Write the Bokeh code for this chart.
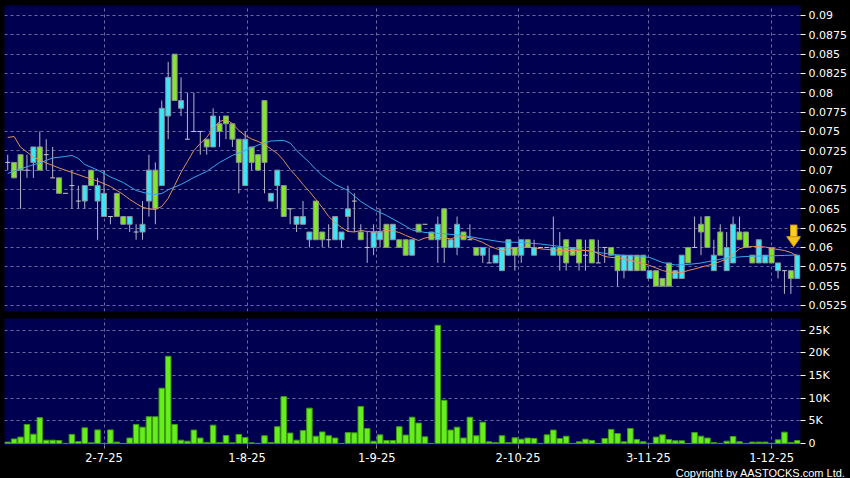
from bokeh.plotting import figure
from bokeh.layouts import column
from bokeh.models import Range1d, FixedTicker, Title, ColumnDataSource, GlobalInlineStyleSheet
from bokeh.embed import file_html
from bokeh.resources import INLINE

# ---------------- data ----------------
opens = [0.071,0.071,0.072,0.070,0.071,0.073,0.072,0.069,0.069,0.067,
         0.068,0.066,0.066,0.070,0.066,0.064,0.064,0.067,0.064,0.063,
         0.062,0.062,0.066,0.070,0.068,0.077,0.085,0.078,0.074,0.075,
         0.075,0.074,0.073,0.076,0.077,0.076,0.074,0.068,0.073,0.072,
         0.079,0.066,0.068,0.068,0.065,0.063,0.063,0.061,0.066,0.062,
         0.061,0.061,0.061,0.064,0.066,0.062,0.060,0.060,0.061,0.063,
         0.061,0.061,0.061,0.059,0.063,0.063,0.062,0.061,0.065,0.060,
         0.060,0.062,0.061,0.060,0.059,0.058,0.058,0.057,0.059,0.060,
         0.059,0.061,0.059,0.060,0.060,0.059,0.060,0.061,0.060,0.061,
         0.059,0.061,0.058,0.060,0.060,0.059,0.057,0.057,0.059,0.059,
         0.056,0.057,0.056,0.058,0.056,0.056,0.060,0.060,0.063,0.064,
         0.057,0.062,0.057,0.058,0.062,0.062,0.059,0.058,0.058,0.060,
         0.057,0.057,0.057,0.056]
highs = [0.072,0.071,0.072,0.072,0.073,0.075,0.074,0.073,0.069,0.067,
         0.070,0.068,0.068,0.070,0.069,0.070,0.064,0.067,0.064,0.064,
         0.063,0.066,0.072,0.071,0.079,0.084,0.085,0.082,0.080,0.080,
         0.075,0.074,0.078,0.077,0.077,0.076,0.074,0.075,0.073,0.072,
         0.079,0.067,0.070,0.068,0.065,0.064,0.066,0.062,0.066,0.062,
         0.063,0.064,0.062,0.068,0.067,0.063,0.062,0.063,0.065,0.063,
         0.063,0.061,0.061,0.061,0.063,0.063,0.062,0.064,0.065,0.061,
         0.064,0.062,0.063,0.060,0.060,0.060,0.059,0.060,0.061,0.060,
         0.061,0.061,0.061,0.060,0.060,0.064,0.062,0.061,0.060,0.061,
         0.061,0.061,0.061,0.060,0.060,0.059,0.059,0.059,0.059,0.059,
         0.057,0.057,0.056,0.058,0.057,0.059,0.060,0.064,0.064,0.064,
         0.061,0.063,0.062,0.064,0.064,0.062,0.059,0.061,0.059,0.060,
         0.058,0.057,0.057,0.059]
lows = [0.070,0.069,0.065,0.069,0.069,0.070,0.070,0.069,0.067,0.067,
        0.065,0.065,0.065,0.068,0.061,0.064,0.063,0.064,0.063,0.062,
        0.061,0.061,0.064,0.063,0.068,0.074,0.079,0.077,0.074,0.075,
        0.072,0.072,0.073,0.073,0.074,0.073,0.067,0.068,0.070,0.070,
        0.067,0.066,0.065,0.064,0.063,0.062,0.063,0.060,0.061,0.060,
        0.060,0.061,0.060,0.062,0.062,0.061,0.058,0.059,0.060,0.060,
        0.061,0.060,0.059,0.059,0.062,0.063,0.061,0.058,0.058,0.060,
        0.059,0.061,0.061,0.059,0.058,0.058,0.058,0.057,0.059,0.057,
        0.058,0.060,0.059,0.060,0.060,0.059,0.057,0.057,0.059,0.057,
        0.057,0.058,0.058,0.058,0.059,0.055,0.056,0.057,0.057,0.057,
        0.056,0.055,0.055,0.055,0.056,0.056,0.058,0.060,0.059,0.060,
        0.057,0.059,0.057,0.058,0.061,0.060,0.058,0.058,0.058,0.058,
        0.056,0.054,0.054,0.056]
closes = [0.071,0.069,0.070,0.070,0.073,0.070,0.072,0.069,0.067,0.067,
          0.068,0.066,0.068,0.068,0.068,0.067,0.064,0.064,0.063,0.064,
          0.062,0.063,0.070,0.065,0.078,0.082,0.079,0.079,0.074,0.075,
          0.075,0.073,0.077,0.075,0.076,0.074,0.071,0.074,0.071,0.070,
          0.071,0.067,0.070,0.064,0.065,0.064,0.064,0.062,0.061,0.061,
          0.061,0.064,0.062,0.065,0.066,0.061,0.060,0.062,0.062,0.060,
          0.063,0.060,0.059,0.061,0.062,0.063,0.061,0.063,0.060,0.061,
          0.063,0.061,0.061,0.059,0.060,0.058,0.059,0.060,0.061,0.059,
          0.061,0.060,0.060,0.060,0.060,0.060,0.059,0.058,0.059,0.058,
          0.059,0.058,0.058,0.060,0.059,0.057,0.059,0.059,0.057,0.057,
          0.057,0.055,0.055,0.055,0.057,0.059,0.058,0.060,0.062,0.060,
          0.059,0.059,0.060,0.063,0.061,0.060,0.058,0.061,0.059,0.058,
          0.058,0.057,0.056,0.059]
volumes = [300,1000,1400,4200,2050,5700,730,730,660,0,
           2000,440,3450,150,3000,0,3000,300,0,1200,
           4200,3600,5900,5900,12200,19250,4200,730,500,2950,
           1200,220,4050,220,1750,150,2000,1300,150,0,
           1700,220,3700,10350,2300,730,2850,7800,1600,2550,
           1700,1200,0,2400,2350,8150,3300,500,1900,660,
           660,3700,1850,5800,4500,1470,0,26100,9550,2950,
           3600,1200,5800,1700,4700,370,220,1700,220,1250,
           950,1200,1100,0,1900,2950,1100,1600,0,370,
           950,660,0,1100,3100,2200,370,3300,880,370,
           0,1400,1900,880,590,590,0,2400,1600,1200,
           220,0,500,1540,370,0,300,300,300,0,
           800,2500,220,660]

# moving averages (candle index, value)
ma_short_idx = [0,1,2,4,6,8,10,12,14,16,18,19,20,21,22,23,24,25,26,27,28,29,30,31,32,33,34,35,36,37,
                38,39,40,41,42,43,44,45,46,47,48,49,50,51,52,53,54,55,56,57,58,59,60,61,62,63,64,65,66,67,
                68,69,70,71,72,73,74,75,76,77,78,79,80,81,82,83,84,85,86,88,90,91,92,93,94,95,96,97,98,99,
                100,101,102,103,104,105,106,107,108,109,110,111,112,113,114,115,116,117,118,119,120,121,122,123]
ma_short_val = [0.07422,0.07435,0.07297,0.07170,0.07093,0.07028,0.06970,0.06912,0.06860,0.06789,
                0.06685,0.06621,0.06569,0.06521,0.06498,0.06491,0.06530,0.06634,0.06802,0.06970,
                0.07112,0.07254,0.07345,0.07422,0.07539,0.07629,0.07655,0.07603,0.07513,0.07448,
                0.07403,0.07371,0.07332,0.07274,0.07216,0.07125,0.07009,0.06918,0.06815,0.06724,
                0.06621,0.06517,0.06401,0.06323,0.06259,0.06207,0.06200,0.06220,0.06207,0.06200,
                0.06207,0.06220,0.06213,0.06194,0.06155,0.06123,0.06090,0.06123,0.06136,0.06129,
                0.06125,0.06112,0.06136,0.06142,0.06125,0.06097,0.06065,0.06019,0.05987,0.05961,
                0.05981,0.06000,0.06004,0.06004,0.05996,0.05983,0.05974,0.05968,0.05961,0.05961,
                0.05961,0.05955,0.05922,0.05884,0.05871,0.05867,0.05851,0.05832,0.05812,0.05793,
                0.05767,0.05735,0.05702,0.05683,0.05670,0.05676,0.05702,0.05722,0.05745,0.05767,
                0.05789,0.05819,0.05851,0.05910,0.05983,0.06006,0.06013,0.06013,0.06006,0.05987,
                0.05974,0.05961,0.05935,0.05890]
ma_long_idx = [0,2,5,7,9,10,11,12,14,16,18,20,22,23,24,25,27,29,31,33,35,37,39,41,43,44,45,46,47,48,
               49,51,53,55,57,59,61,63,65,68,71,74,77,80,83,86,89,92,95,98,100,102,104,106,108,110,112,115,118,121,123]
ma_long_val = [0.06957,0.07018,0.07095,0.07157,0.07177,0.07190,0.07151,0.07073,0.07002,0.06912,
               0.06840,0.06737,0.06692,0.06685,0.06698,0.06746,0.06815,0.06905,0.06983,0.07099,
               0.07190,0.07254,0.07325,0.07377,0.07384,0.07351,0.07254,0.07177,0.07099,0.07009,
               0.06931,0.06815,0.06737,0.06595,0.06491,0.06414,0.06323,0.06226,0.06194,0.06177,
               0.06155,0.06110,0.06071,0.06065,0.06045,0.06013,0.05974,0.05935,0.05903,0.05890,
               0.05871,0.05806,0.05774,0.05780,0.05799,0.05832,0.05864,0.05884,0.05890,0.05897,0.05903]

price_ticks = [0.0525,0.055,0.0575,0.06,0.0625,0.065,0.0675,0.07,0.0725,0.075,0.0775,0.08,0.0825,0.085,0.0875,0.09]
price_labels = ["0.0525","0.055","0.0575","0.06","0.0625","0.065","0.0675","0.07","0.0725","0.075",
                "0.0775","0.08","0.0825","0.085","0.0875","0.09"]
vol_ticks = [0,5000,10000,15000,20000,25000]
vol_labels = ["0","5K","10K","15K","20K","25K"]
date_tick_pos = [15,37.3,57.5,79.5,99.8,119]
date_labels = ["2-7-25","1-8-25","1-9-25","2-10-25","3-11-25","1-12-25"]

# ---------------- styling ----------------
BG = "#000050"
CYAN = "#3ce6f5"
GREEN = "#84e62a"
EDGE = "#8e8e98"
WICK = "#b4b4c8"
GRID = "#6a6aa0"
FONT = "DejaVu Sans"

n = len(closes)
xs = list(range(n))
up = [c > o for o, c in zip(opens, closes)]
dn = [c < o for o, c in zip(opens, closes)]
dj = [c == o for o, c in zip(opens, closes)]

src = ColumnDataSource(dict(
    x=xs, o=opens, h=highs, l=lows, c=closes,
    top=[max(o, c) for o, c in zip(opens, closes)],
    bot=[min(o, c) for o, c in zip(opens, closes)],
    x0=[i - 0.38 for i in xs], x1=[i + 0.38 for i in xs],
))

def subset(mask):
    d = {k: [v for v, m in zip(vals, mask) if m] for k, vals in src.data.items()}
    return ColumnDataSource(d)

src_up, src_dn, src_dj = subset(up), subset(dn), subset(dj)

W = 850
RB = 50
xr = Range1d(-0.5, n - 0.5)

def style_yaxis(ax, ticks, labels):
    ax.ticker = FixedTicker(ticks=ticks)
    ax.major_label_overrides = dict(zip(ticks, labels))
    ax.axis_line_color = None
    ax.major_tick_line_color = "#ffffff"
    ax.major_tick_in = 0
    ax.major_tick_out = 5
    ax.minor_tick_line_color = None
    ax.major_label_standoff = 3
    ax.major_label_text_color = "#ffffff"
    ax.major_label_text_font = FONT
    ax.major_label_text_font_size = "11px"

p = figure(width=W, height=318, x_range=xr, y_range=Range1d(0.05172, 0.09129),
           y_axis_location="right", x_axis_location=None,
           toolbar_location=None, output_backend="svg",
           background_fill_color=BG, border_fill_color="#000000", outline_line_color=None,
           min_border_left=4, min_border_right=RB, min_border_top=5, min_border_bottom=7)

p.ygrid.ticker = FixedTicker(ticks=price_ticks)
p.ygrid.grid_line_color = GRID
p.ygrid.grid_line_dash = "3 3"
p.xgrid.ticker = FixedTicker(ticks=date_tick_pos)
p.xgrid.grid_line_color = GRID
p.xgrid.grid_line_dash = "3 3"
style_yaxis(p.yaxis[0], price_ticks, price_labels)

# candles
p.segment(x0="x", y0="h", x1="x", y1="l", source=src, line_color=WICK, line_width=1)
p.vbar(x="x", width=0.78, top="top", bottom="bot", source=src_up,
       fill_color=CYAN, line_color=EDGE, line_width=1)
p.vbar(x="x", width=0.78, top="top", bottom="bot", source=src_dn,
       fill_color=GREEN, line_color=EDGE, line_width=1)
p.segment(x0="x0", y0="c", x1="x1", y1="c", source=src_dj, line_color="#c8c8c8", line_width=1)

# moving averages
p.line(ma_long_idx, ma_long_val, line_color="#3aa8e8", line_width=1)
p.line(ma_short_idx, ma_short_val, line_color="#e0905a", line_width=1)

# marker arrow above last candle
xa = n - 1 - 0.55
tip = highs[-1] + 0.0011
p.patch([xa - 1.1, xa + 1.1, xa], [tip + 0.0013, tip + 0.0013, tip],
        fill_color="#f6c412", line_color="#d49a00", line_width=1)
p.quad(left=[xa - 0.5], right=[xa + 0.5], bottom=[tip + 0.0013], top=[tip + 0.0028],
       fill_color="#f8d020", line_color="#d49a00", line_width=1)

# ---------------- volume panel ----------------
v = figure(width=W, height=160, x_range=xr, y_range=Range1d(-450, 27600),
           y_axis_location="right", toolbar_location=None, output_backend="svg",
           background_fill_color=BG, border_fill_color="#000000", outline_line_color=None,
           min_border_left=4, min_border_right=RB, min_border_top=0, min_border_bottom=33)

v.vbar(x=xs, width=0.86, top=volumes, bottom=0, fill_color="#66ee1c", line_color="#3f9a12", line_width=1)

v.ygrid.ticker = FixedTicker(ticks=vol_ticks)
v.ygrid.grid_line_color = GRID
v.ygrid.grid_line_dash = "3 3"
v.xgrid.ticker = FixedTicker(ticks=date_tick_pos)
v.xgrid.grid_line_color = GRID
v.xgrid.grid_line_dash = "3 3"
style_yaxis(v.yaxis[0], vol_ticks, vol_labels)

vx = v.xaxis[0]
vx.ticker = FixedTicker(ticks=date_tick_pos)
vx.major_label_overrides = dict(zip(date_tick_pos, date_labels))
vx.axis_line_color = None
vx.major_tick_line_color = "#9090a0"
vx.major_tick_in = 0
vx.major_tick_out = 3
vx.minor_tick_line_color = None
vx.major_label_standoff = 4
vx.major_label_text_color = "#ffffff"
vx.major_label_text_font = FONT
vx.major_label_text_font_size = "11.5px"

v.add_layout(Title(text="Copyright by AASTOCKS.com Ltd.", align="right", offset=-45, standoff=0,
                   text_color="#ffffff", text_font="Liberation Sans", text_font_size="11px",
                   text_font_style="normal"), "below")

layout = column(p, v, spacing=0,
                stylesheets=[GlobalInlineStyleSheet(css="body { background-color: #000000; }")])

open("out.html", "w").write(file_html(layout, INLINE))
